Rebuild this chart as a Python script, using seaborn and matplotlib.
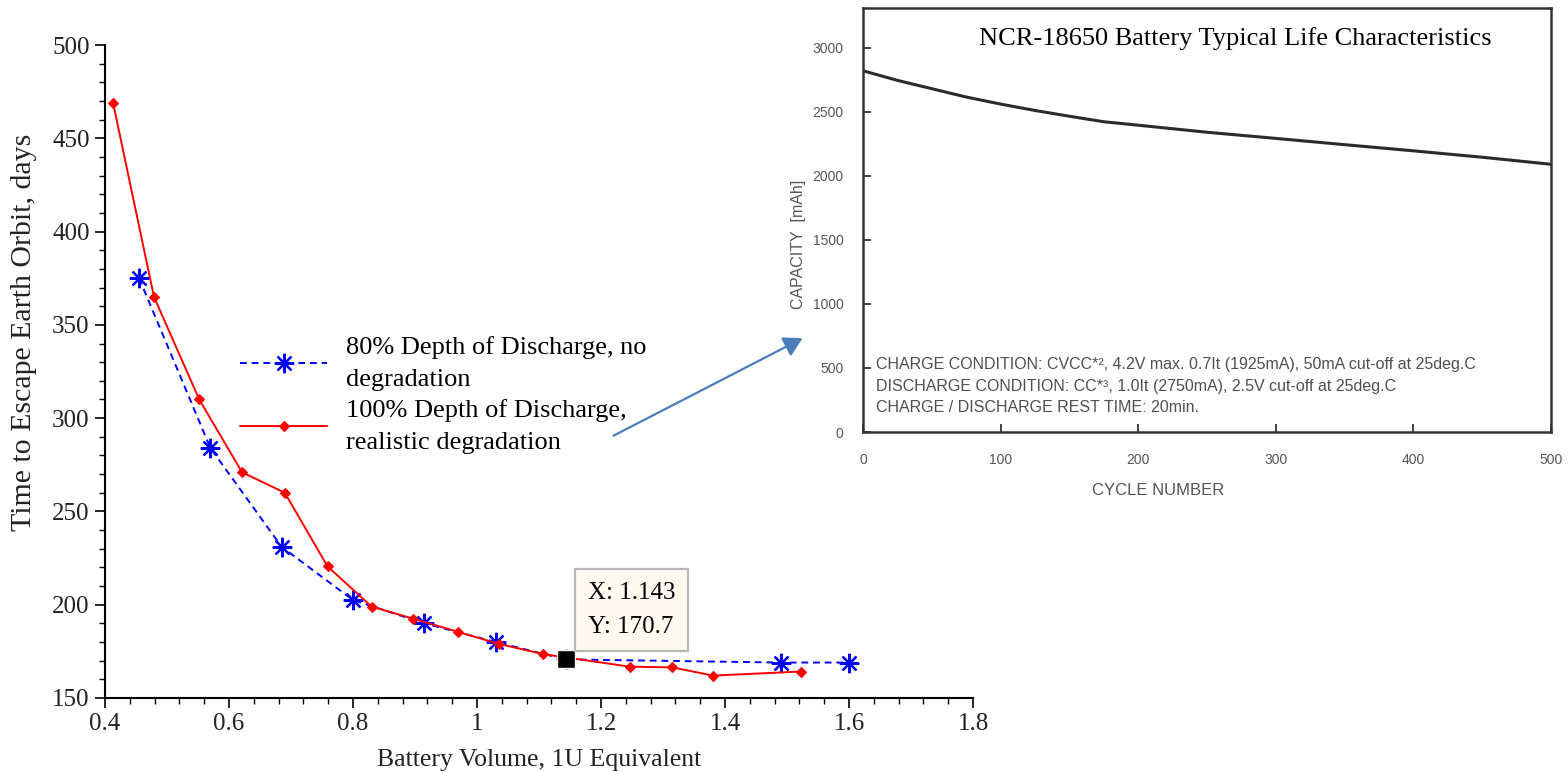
import matplotlib
matplotlib.use("Agg")
import matplotlib.pyplot as plt
from matplotlib import font_manager
from matplotlib.patches import FancyArrowPatch
from matplotlib.ticker import MultipleLocator, FuncFormatter
import pandas as pd
import seaborn as sns

# Time to escape Earth orbit vs. battery volume -- 80% DoD, no degradation
vol_80 = [0.455, 0.57, 0.685, 0.80, 0.915, 1.03, 1.143, 1.49, 1.60]
days_80 = [375, 284, 231, 202.5, 190, 180, 170.7, 169, 169]

# 100% DoD with realistic degradation
vol_100 = [0.413, 0.479, 0.552, 0.621, 0.690, 0.759, 0.830, 0.897, 0.969,
           1.035, 1.107, 1.246, 1.315, 1.381, 1.523]
days_100 = [469, 365, 310, 271, 260, 220.5, 199, 192.5, 185.5,
            179, 173.5, 166.8, 166.4, 162, 164.2]

# highlighted data tip (index into the 80% series)
tip_idx = 6

# NCR-18650 capacity fade vs. cycle number
cycles = [0, 25, 50, 75, 100, 125, 150, 175, 200, 250, 300, 350, 400, 450, 500]
capacity = [2820, 2745, 2680, 2615, 2560, 2510, 2465, 2422, 2395, 2340,
            2292, 2243, 2195, 2145, 2090]

label_80 = "80% Depth of Discharge, no\ndegradation"
label_100 = "100% Depth of Discharge,\nrealistic degradation"
x_ticks = [0.4, 0.6, 0.8, 1.0, 1.2, 1.4, 1.6, 1.8]
y_ticks = [150, 200, 250, 300, 350, 400, 450, 500]
cap_ticks = [0, 500, 1000, 1500, 2000, 2500, 3000]
cyc_ticks = [0, 100, 200, 300, 400, 500]

sns.set_theme(style="white")
plt.rcParams["font.family"] = ["Liberation Serif", "DejaVu Serif"]

available = {f.name for f in font_manager.fontManager.ttflist}
narrow = "Liberation Sans Narrow" if "Liberation Sans Narrow" in available else "Liberation Sans"
sans = "Liberation Sans" if "Liberation Sans" in available else "DejaVu Sans"

fig = plt.figure(figsize=(15.68, 7.72), dpi=100)
fig.patch.set_facecolor("white")

W, H = 1568, 772
def box(l, t, r, b):
    return [l / W, 1 - b / H, (r - l) / W, (b - t) / H]

# ---------------- left: escape time chart ----------------
ax = fig.add_axes(box(105, 45, 973, 698))
ax.set_facecolor("white")

df80 = pd.DataFrame({"vol": vol_80, "days": days_80})
df100 = pd.DataFrame({"vol": vol_100, "days": days_100})

sns.lineplot(data=df80, x="vol", y="days", ax=ax, color="#0000ff",
             linestyle=(0, (3.5, 2.5)), linewidth=1.4, marker=(8, 2, 0),
             markersize=14, markeredgewidth=1.6, markeredgecolor="#0000ff",
             label=label_80, zorder=3)
sns.lineplot(data=df100, x="vol", y="days", ax=ax, color="#ff0000",
             linestyle="-", linewidth=1.4, marker="D", markersize=5.5,
             markeredgewidth=0.8, markeredgecolor="#ff0000",
             label=label_100, zorder=4)

ax.set_xlim(0.4, 1.8)
ax.set_ylim(150, 500)
ax.set_xticks(x_ticks)
ax.set_yticks(y_ticks)
ax.xaxis.set_minor_locator(MultipleLocator(0.04))
ax.yaxis.set_minor_locator(MultipleLocator(10))
ax.xaxis.set_major_formatter(FuncFormatter(lambda v, p: f"{v:g}"))
ax.tick_params(axis="both", which="major", direction="out", length=7, width=1.2,
               color="black", labelsize=18, labelcolor="#222222", pad=4,
               bottom=True, left=True)
ax.tick_params(axis="both", which="minor", direction="out", length=4, width=1.0,
               color="black", bottom=True, left=True)
for s in ["top", "right"]:
    ax.spines[s].set_visible(False)
for s in ["left", "bottom"]:
    ax.spines[s].set_color("black")
    ax.spines[s].set_linewidth(1.5)

ax.set_xlabel("Battery Volume, 1U Equivalent", fontsize=18.5, color="#222222", labelpad=10)
ax.set_ylabel("Time to Escape Earth Orbit, days", fontsize=21.5, color="#222222")
ax.yaxis.set_label_coords(-0.078, 0.56)

leg = ax.legend(loc="upper left", bbox_to_anchor=(240 / W, 1 - 336 / H),
                bbox_transform=fig.transFigure, frameon=False, fontsize=19,
                handlelength=3.3, handletextpad=0.72, labelspacing=0.3,
                borderpad=0, borderaxespad=0, numpoints=1)
for t in leg.get_texts():
    t.set_color("black")
    t.set_linespacing(1.6)

# data tip on the 80% series
tx, ty = vol_80[tip_idx], days_80[tip_idx]
ax.plot([tx], [ty], marker="s", markersize=12.5, color="black", zorder=6,
        markeredgecolor="#fff6e6", markeredgewidth=1.0)
ax.annotate(f"X: {tx:.3f}\nY: {ty:.1f}", xy=(tx, ty), xytext=(22, 21),
            textcoords="offset pixels", ha="left", va="bottom", fontsize=18,
            color="black", linespacing=1.75, zorder=7,
            bbox=dict(boxstyle="square,pad=0.5", fc="#fffaf0", ec="#b8b8b8", lw=1.6))

# ---------------- right: NCR-18650 life characteristics ----------------
ax2 = fig.add_axes(box(863, 8, 1551, 432))
ax2.set_facecolor("white")
ax2.set_zorder(2)
dfc = pd.DataFrame({"cycle": cycles, "cap": capacity})
sns.lineplot(data=dfc, x="cycle", y="cap", ax=ax2, color="#2b2b2b", linewidth=2.2)
ax2.set_xlim(0, 500)
ax2.set_ylim(0, 3310)
ax2.set_xticks(cyc_ticks)
ax2.set_yticks(cap_ticks)
ax2.tick_params(axis="both", which="major", direction="in", length=6, width=1.3,
                color="#333333", labelsize=10, labelcolor="#555555",
                bottom=True, left=True)
ax2.tick_params(axis="x", pad=15)
ax2.tick_params(axis="y", pad=14)
for lab in ax2.get_xticklabels() + ax2.get_yticklabels():
    lab.set_family(sans)
for s in ax2.spines.values():
    s.set_visible(True)
    s.set_color("#333333")
    s.set_linewidth(1.8)
ax2.set_xlabel("CYCLE NUMBER", fontsize=12, color="#555555", family=sans)
ax2.set_ylabel("CAPACITY  [mAh]", fontsize=11.5, color="#555555", family=sans)
ax2.xaxis.set_label_coords(0.429, -0.12)
ax2.yaxis.set_label_coords(-0.083, 0.443)

ax2.text(0.541, 0.929, "NCR-18650 Battery Typical Life Characteristics",
         transform=ax2.transAxes, ha="center", va="center", fontsize=19, color="black")
ax2.text(0.019, 0.108,
         "CHARGE CONDITION: CVCC*², 4.2V max. 0.7It (1925mA), 50mA cut-off at 25deg.C\n"
         "DISCHARGE CONDITION: CC*³, 1.0It (2750mA), 2.5V cut-off at 25deg.C\n"
         "CHARGE / DISCHARGE REST TIME: 20min.",
         transform=ax2.transAxes, ha="left", va="center", fontsize=11.5,
         color="#4f4f4f", family=narrow, linespacing=1.55)

# pointer from the legend to the capacity chart
fig.add_artist(FancyArrowPatch(
    (611 / W, 1 - 437 / H), (805 / W, 1 - 337 / H), transform=fig.transFigure,
    arrowstyle="-|>,head_length=7,head_width=4", color="#4a7ebb", lw=1.6,
    mutation_scale=1.6, zorder=10))

fig.savefig("out.png", dpi=100, facecolor="white")
